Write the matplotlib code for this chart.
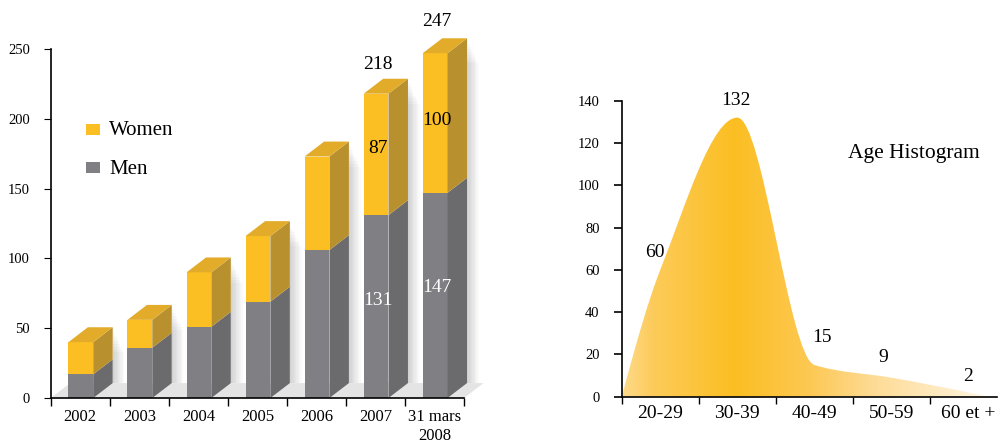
import numpy as np
import matplotlib
matplotlib.use("Agg")
import matplotlib.pyplot as plt
from matplotlib.patches import Polygon, PathPatch, Rectangle
from matplotlib.path import Path

plt.rcParams['font.family'] = ['Liberation Serif', 'DejaVu Serif']

# left chart data
years = ['2002', '2003', '2004', '2005', '2006', '2007', '31 mars\n2008']
men = [17, 36, 51, 69, 106, 131, 147]
women = [23, 20, 39, 47, 67, 87, 100]
totals_shown = {5: 218, 6: 247}
women_shown = {5: 87, 6: 100}
men_shown = {5: 131, 6: 147}

# right chart data
age_groups = ['20-29', '30-39', '40-49', '50-59', '60 et +']
age_counts = [60, 132, 15, 9, 2]

YELLOW = '#fbbf24'
YELLOW_SIDE = '#b8912e'
YELLOW_TOP = '#e2ac2a'
GREY = '#807f84'
GREY_SIDE = '#6b6b6e'

fig = plt.figure(figsize=(9.98, 4.42), dpi=100)

# ---------------- stacked 3D-ish bars ----------------
ax1 = fig.add_axes([0.0508, 0.0995, 0.4142, 0.7896])
ax1.set_xlim(0, 7)
ax1.set_ylim(0, 250)
dx, dy = 0.33, 10.7      # depth offset of the fake 3D boxes
x0, w = 0.30, 0.42       # front face position inside each category

# floor
ax1.add_patch(Polygon([(0, 0), (7, 0), (7 + dx, dy), (dx, dy)], closed=True,
                      facecolor='#e4e4e4', edgecolor='none', zorder=0.5, clip_on=False))


def box(ax, left, bottom, top, front, side, topc=None):
    right = left + w
    ax.add_patch(Polygon([(left, bottom), (right, bottom), (right, top), (left, top)],
                         facecolor=front, edgecolor='none', zorder=3, clip_on=False))
    ax.add_patch(Polygon([(right, bottom), (right + dx, bottom + dy), (right + dx, top + dy), (right, top)],
                         facecolor=side, edgecolor='none', zorder=3, clip_on=False))
    if topc is not None:
        ax.add_patch(Polygon([(left, top), (right, top), (right + dx, top + dy), (left + dx, top + dy)],
                             facecolor=topc, edgecolor='none', zorder=3, clip_on=False))


for i in range(len(years)):
    left = i + x0
    total = men[i] + women[i]
    edge = left + w + dx
    # soft shadow right of the box, built from thin translucent layers
    for k in range(1, 10):
        ax1.add_patch(Polygon([(edge, dy), (edge + 0.022 * k, dy), (edge + 0.022 * k, total + dy - 2 * k),
                               (edge, total + dy - 2 * k)],
                              facecolor='black', alpha=0.018, edgecolor='none', zorder=1, clip_on=False))
    box(ax1, left, 0, men[i], GREY, GREY_SIDE)
    box(ax1, left, men[i], total, YELLOW, YELLOW_SIDE, YELLOW_TOP)

# value labels
lab_x = x0 + w / 2 + 0.03
ax1.text(5 + lab_x, 239, str(totals_shown[5]), ha='center', va='center', fontsize=14, clip_on=False)
ax1.text(6 + lab_x, 270, str(totals_shown[6]), ha='center', va='center', fontsize=14, clip_on=False)
ax1.text(5 + lab_x, 178.5, str(women_shown[5]), ha='center', va='center', fontsize=14)
ax1.text(6 + lab_x, 199, str(women_shown[6]), ha='center', va='center', fontsize=14)
ax1.text(5 + lab_x, 69.5, str(men_shown[5]), ha='center', va='center', fontsize=14, color='white')
ax1.text(6 + lab_x, 79, str(men_shown[6]), ha='center', va='center', fontsize=14, color='white')

# legend
ax1.add_patch(Rectangle((0.6, 188.5), 0.24, 8, facecolor=YELLOW, edgecolor='none', zorder=3))
ax1.add_patch(Rectangle((0.6, 161), 0.24, 8, facecolor=GREY, edgecolor='none', zorder=3))
ax1.text(0.99, 191.5, 'Women', va='center', fontsize=15)
ax1.text(0.99, 164, 'Men', va='center', fontsize=15)

ax1.spines['top'].set_visible(False)
ax1.spines['right'].set_visible(False)
ax1.set_xticks(range(8))
ax1.set_xticklabels([])
ax1.set_xticks(np.arange(len(years)) + 0.5, minor=True)
ax1.set_xticklabels(years, minor=True, fontsize=12)
ax1.tick_params(axis='x', which='major', direction='out', length=6, width=1)
ax1.tick_params(axis='x', which='minor', length=0, pad=8)
ax1.set_yticks(range(0, 251, 50))
ax1.tick_params(axis='y', direction='out', length=5, labelsize=10.5, pad=10)
for sp in ax1.spines.values():
    sp.set_linewidth(1.2)
    sp.set_zorder(4)

# ---------------- age histogram ----------------
ax2 = fig.add_axes([0.623, 0.1025, 0.376, 0.6697])
xmax = 4.87
ax2.set_xlim(0, xmax)
ax2.set_ylim(0, 140)

# smooth monotone curve through the bin centres, anchored at zero on both ends
px = np.array([0] + [i + 0.5 for i in range(len(age_counts))] + [4.75], float)
py = np.array([0] + age_counts + [0], float)
h = np.diff(px)
d = np.diff(py) / h
m = np.zeros_like(py)
for k in range(1, len(px) - 1):
    if d[k - 1] * d[k] > 0:
        w1 = 2 * h[k] + h[k - 1]
        w2 = h[k] + 2 * h[k - 1]
        m[k] = (w1 + w2) / (w1 / d[k - 1] + w2 / d[k])
m[0] = ((2 * h[0] + h[1]) * d[0] - h[0] * d[1]) / (h[0] + h[1])
m[-1] = d[-1]

verts = [(px[0], py[0])]
codes = [Path.MOVETO]
for k in range(len(px) - 1):
    verts += [(px[k] + h[k] / 3, py[k] + m[k] * h[k] / 3),
              (px[k + 1] - h[k] / 3, py[k + 1] - m[k + 1] * h[k] / 3),
              (px[k + 1], py[k + 1])]
    codes += [Path.CURVE4] * 3
verts += [(px[0], 0), (px[0], 0)]
codes += [Path.LINETO, Path.CLOSEPOLY]
shape = PathPatch(Path(verts, codes), facecolor='none', edgecolor='none')
ax2.add_patch(shape)

# horizontal colour gradient clipped to the curve
stops_x = [0, 0.4, 1.45, 2.4, 3.3, 4.75, xmax]
stops_c = ['#fdda8c', '#fdcb5a', '#fbbe22', '#fdc851', '#fedc98', '#fff6e2', '#fff6e2']
rgb = np.array([matplotlib.colors.to_rgb(c) for c in stops_c])
gx = np.linspace(0, xmax, 400)
grad = np.stack([np.interp(gx, stops_x, rgb[:, j]) for j in range(3)], axis=-1)[None, :, :]
img = ax2.imshow(grad, extent=[0, xmax, 0, 140], aspect='auto', origin='lower', zorder=1)
img.set_clip_path(shape)

# count labels
ax2.text(1.48, 136, '132', ha='center', va='bottom', fontsize=14)
ax2.text(0.43, 68, '60', ha='center', va='center', fontsize=14)
ax2.text(2.6, 28, '15', ha='center', va='center', fontsize=14)
ax2.text(3.4, 18.5, '9', ha='center', va='center', fontsize=14)
ax2.text(4.5, 9.5, '2', ha='center', va='center', fontsize=14)
ax2.text(3.79, 115, 'Age Histogram', ha='center', va='center', fontsize=15.5)

ax2.spines['top'].set_visible(False)
ax2.spines['right'].set_visible(False)
ax2.set_xticks(range(5))
ax2.set_xticklabels([])
ax2.set_xticks(np.arange(len(age_groups)) + 0.5, minor=True)
ax2.set_xticklabels(age_groups, minor=True, fontsize=14)
ax2.tick_params(axis='x', which='major', direction='out', length=5, width=1)
ax2.tick_params(axis='x', which='minor', length=0, pad=6)
ax2.set_yticks(range(0, 141, 20))
ax2.tick_params(axis='y', direction='out', length=6, width=1.2, labelsize=10.5, pad=10)
for sp in ax2.spines.values():
    sp.set_linewidth(1.2)
    sp.set_zorder(4)

fig.savefig('out.png', dpi=100)
